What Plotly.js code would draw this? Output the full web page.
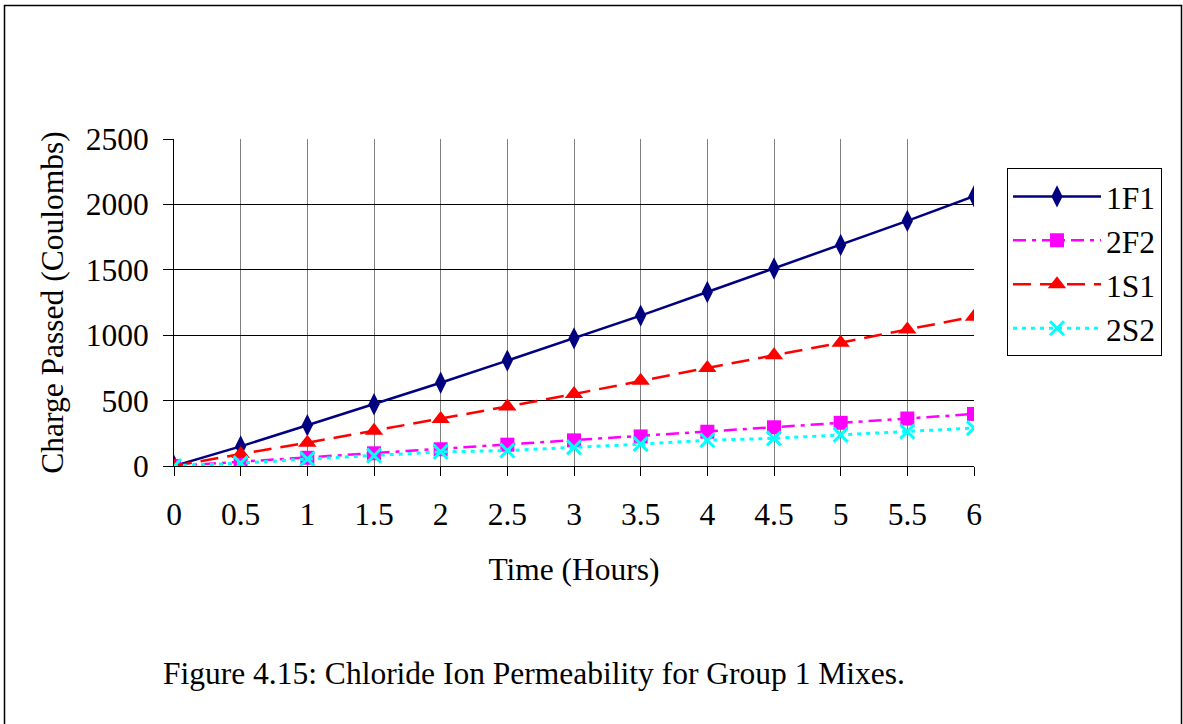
<!DOCTYPE html>
<html>
<head>
<meta charset="utf-8">
<script src="https://cdn.plot.ly/plotly-3.0.1.min.js"></script>
<style>
html,body{margin:0;padding:0;background:#fff;}
#chart{width:1183px;height:724px;}
</style>
</head>
<body>
<div id="chart"></div>
<script>
const hours = [0, 0.5, 1, 1.5, 2, 2.5, 3, 3.5, 4, 4.5, 5, 5.5, 6];
const s1F1 = [0, 150, 312, 472, 636, 806, 976, 1150, 1330, 1510, 1690, 1874, 2062];
const s2F2 = [0, 33, 63, 97, 128, 163, 196, 226, 262, 296, 330, 363, 398];
const s1S1 = [0, 92, 178, 270, 360, 455, 550, 651, 750, 846, 942, 1044, 1142];
const s2S2 = [0, 22, 53, 79, 108, 118, 142, 167, 197, 211, 238, 263, 290];
const seriesNames = ["1F1", "2F2", "1S1", "2S2"];
const xTickVals = [0, 0.5, 1, 1.5, 2, 2.5, 3, 3.5, 4, 4.5, 5, 5.5, 6];
const xTickText = ["0", "0.5", "1", "1.5", "2", "2.5", "3", "3.5", "4", "4.5", "5", "5.5", "6"];
const yTickVals = [0, 500, 1000, 1500, 2000, 2500];
const xTitle = "Time (Hours)";
const yTitle = "Charge Passed (Coulombs)";
const caption = "Figure 4.15: Chloride Ion Permeability for Group 1 Mixes.";

const FONT = "Liberation Serif, Times New Roman, serif";
const FS = 31.5;

const traces = [
  {x: hours, y: s1F1, name: seriesNames[0], mode: "lines+markers",
   line: {color: "#000080", width: 2.5},
   marker: {symbol: "diamond-tall", size: 16, color: "#000080"}},
  {x: hours, y: s2F2, name: seriesNames[1], mode: "lines+markers",
   line: {color: "#FF00FF", width: 2.5, dash: "13px,6px,4px,6px"},
   marker: {symbol: "square", size: 14, color: "#FF00FF"}},
  {x: hours, y: s1S1, name: seriesNames[2], mode: "lines+markers",
   line: {color: "#FF0000", width: 2.5, dash: "18px,9px"},
   marker: {symbol: "triangle-up", size: 16, color: "#FF0000"}},
  {x: hours, y: s2S2, name: seriesNames[3], mode: "lines+markers",
   line: {color: "#00FFFF", width: 3, dash: "4px,5px"},
   marker: {symbol: "x-thin-open", size: 14, color: "#00FFFF", line: {color: "#00FFFF", width: 3}}}
];

const L = 174, R = 974, T = 138.5, B = 466.5, W = 1183, H = 724;
const pw = R - L, ph = B - T;
function px(x){ return (x - L) / pw; }
function py(y){ return (B - y) / ph; }

const layout = {
  width: W, height: H,
  margin: {l: L, r: W - R, t: T, b: H - B, pad: 0},
  paper_bgcolor: "#fff", plot_bgcolor: "#fff",
  font: {family: FONT, size: FS, color: "#000"},
  showlegend: true,
  legend: {
    x: px(1007), y: py(168), xanchor: "left", yanchor: "top",
    bordercolor: "#000", borderwidth: 1, bgcolor: "#fff",
    font: {family: FONT, size: FS, color: "#000"},
    itemwidth: 88, tracegroupgap: 0
  },
  xaxis: {
    range: [0, 6], tickvals: xTickVals, ticktext: xTickText,
    showgrid: true, gridcolor: "#808080", gridwidth: 1,
    showline: true, linecolor: "#000", linewidth: 1,
    ticks: "outside", ticklen: 9, tickcolor: "#000", tickwidth: 1,
    ticklabelstandoff: 11,
    zeroline: false, fixedrange: true,
    tickfont: {family: FONT, size: FS, color: "#000"},
    title: {text: xTitle, font: {family: FONT, size: FS, color: "#000"}, standoff: 27}
  },
  yaxis: {
    range: [0, 2500], tickvals: yTickVals,
    showgrid: true, gridcolor: "#000", gridwidth: 1,
    showline: true, linecolor: "#000", linewidth: 1,
    ticks: "outside", ticklen: 10, tickcolor: "#000", tickwidth: 1,
    ticklabelstandoff: 8,
    zeroline: false, fixedrange: true,
    tickfont: {family: FONT, size: FS, color: "#000"},
    title: {text: yTitle, font: {family: FONT, size: FS, color: "#000"}, standoff: 12}
  },
  shapes: [
    {type: "rect", xref: "paper", yref: "paper",
     x0: px(4.5), x1: px(1181.5), y0: py(4.5), y1: py(740),
     line: {color: "#000", width: 1.5}, fillcolor: "rgba(0,0,0,0)", layer: "below"}
  ],
  annotations: [
    {text: caption, xref: "paper", yref: "paper", x: px(161), y: py(675),
     xanchor: "left", yanchor: "middle", showarrow: false,
     font: {family: FONT, size: FS, color: "#000"}}
  ]
};

Plotly.newPlot("chart", traces, layout, {displayModeBar: false, staticPlot: true});
</script>
</body>
</html>
